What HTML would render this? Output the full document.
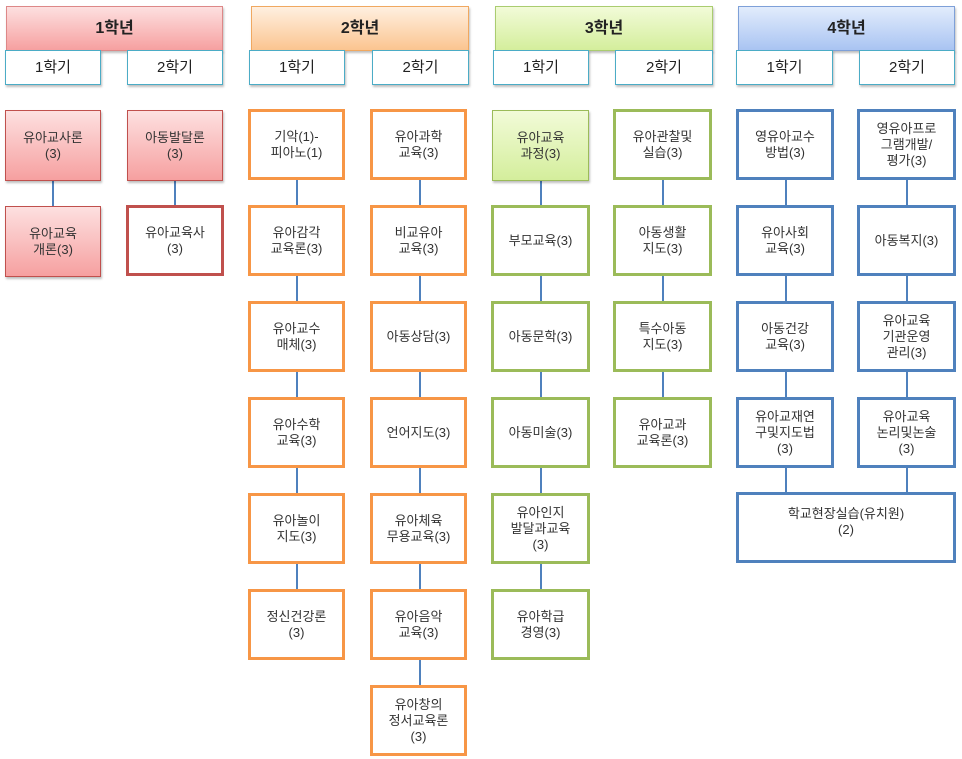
<!DOCTYPE html>
<html><head><meta charset="utf-8"><style>
body{margin:0;width:962px;height:759px;background:#fff;position:relative;overflow:hidden;font-family:"Liberation Sans","Noto Sans CJK KR",sans-serif;}
.a{position:absolute;box-sizing:border-box;display:flex;align-items:center;justify-content:center;text-align:center;color:#333;font-size:13px;line-height:16px;}
.h{height:45px;font-weight:bold;font-size:16px;color:#222;padding-bottom:0;align-items:center;box-shadow:1px 2px 2px rgba(0,0,0,.25);}
.s{height:35px;background:#fff;font-size:15px;color:#222;box-shadow:1px 2px 2px rgba(0,0,0,.25);border:1.5px solid #4BACC6;}
.c{height:71px;background:#fff;}
.o{border:3px solid #F79646}.g{border:3px solid #9BBB59}.b{border:3px solid #4F81BD}.r{border:3px solid #C0504D}
.rf{border:1.5px solid #C0504D;background:linear-gradient(#fde0e0,#f6a0a0);box-shadow:1px 2px 2px rgba(0,0,0,.25);}
.gf{border:1.5px solid #9BBB59;background:linear-gradient(#f2fbd8,#d4ee9c);box-shadow:1px 2px 2px rgba(0,0,0,.25);}
.l{position:absolute;width:1.5px;background:#4F81BD;}
</style></head><body>
<div class="l" style="left:52px;top:180px;height:26px"></div>
<div class="l" style="left:174px;top:180px;height:26px"></div>
<div class="l" style="left:296px;top:180px;height:410px"></div>
<div class="l" style="left:419px;top:180px;height:506px"></div>
<div class="l" style="left:540px;top:180px;height:410px"></div>
<div class="l" style="left:662px;top:180px;height:218px"></div>
<div class="l" style="left:785px;top:180px;height:314px"></div>
<div class="l" style="left:906px;top:180px;height:314px"></div>

<div class="a h" style="left:6px;top:6px;width:217px;background:linear-gradient(#fde0e0,#f6a0a0);border:1px solid #d88">1학년</div>
<div class="a h" style="left:251px;top:6px;width:218px;background:linear-gradient(#fff0e0,#fbc590);border:1px solid #f0a860">2학년</div>
<div class="a h" style="left:495px;top:6px;width:218px;background:linear-gradient(#f2fbd8,#d4ee9c);border:1px solid #aacc70">3학년</div>
<div class="a h" style="left:738px;top:6px;width:217px;background:linear-gradient(#e2ecfc,#a9c4f2);border:1px solid #7ea0d8">4학년</div>

<div class="a s" style="left:5px;top:50px;width:96px">1학기</div>
<div class="a s" style="left:127px;top:50px;width:96px">2학기</div>
<div class="a s" style="left:249px;top:50px;width:96px">1학기</div>
<div class="a s" style="left:372px;top:50px;width:97px">2학기</div>
<div class="a s" style="left:493px;top:50px;width:96px">1학기</div>
<div class="a s" style="left:615px;top:50px;width:98px">2학기</div>
<div class="a s" style="left:736px;top:50px;width:97px">1학기</div>
<div class="a s" style="left:859px;top:50px;width:96px">2학기</div>

<div class="a c rf" style="left:5px;top:110px;width:96px">유아교사론<br>(3)</div>
<div class="a c rf" style="left:5px;top:206px;width:96px">유아교육<br>개론(3)</div>
<div class="a c rf" style="left:127px;top:110px;width:96px">아동발달론<br>(3)</div>
<div class="a c r" style="left:126px;top:205px;width:98px">유아교육사<br>(3)</div>

<div class="a c o" style="left:248px;top:109px;width:97px">기악(1)-<br>피아노(1)</div>
<div class="a c o" style="left:248px;top:205px;width:97px">유아감각<br>교육론(3)</div>
<div class="a c o" style="left:248px;top:301px;width:97px">유아교수<br>매체(3)</div>
<div class="a c o" style="left:248px;top:397px;width:97px">유아수학<br>교육(3)</div>
<div class="a c o" style="left:248px;top:493px;width:97px">유아놀이<br>지도(3)</div>
<div class="a c o" style="left:248px;top:589px;width:97px">정신건강론<br>(3)</div>

<div class="a c o" style="left:370px;top:109px;width:97px">유아과학<br>교육(3)</div>
<div class="a c o" style="left:370px;top:205px;width:97px">비교유아<br>교육(3)</div>
<div class="a c o" style="left:370px;top:301px;width:97px">아동상담(3)</div>
<div class="a c o" style="left:370px;top:397px;width:97px">언어지도(3)</div>
<div class="a c o" style="left:370px;top:493px;width:97px">유아체육<br>무용교육(3)</div>
<div class="a c o" style="left:370px;top:589px;width:97px">유아음악<br>교육(3)</div>
<div class="a c o" style="left:370px;top:685px;width:97px">유아창의<br>정서교육론<br>(3)</div>

<div class="a c gf" style="left:492px;top:110px;width:97px">유아교육<br>과정(3)</div>
<div class="a c g" style="left:491px;top:205px;width:99px">부모교육(3)</div>
<div class="a c g" style="left:491px;top:397px;width:99px">아동미술(3)</div>
<div class="a c g" style="left:491px;top:301px;width:99px">아동문학(3)</div>
<div class="a c g" style="left:491px;top:493px;width:99px">유아인지<br>발달과교육<br>(3)</div>
<div class="a c g" style="left:491px;top:589px;width:99px">유아학급<br>경영(3)</div>

<div class="a c g" style="left:613px;top:109px;width:99px">유아관찰및<br>실습(3)</div>
<div class="a c g" style="left:613px;top:205px;width:99px">아동생활<br>지도(3)</div>
<div class="a c g" style="left:613px;top:301px;width:99px">특수아동<br>지도(3)</div>
<div class="a c g" style="left:613px;top:397px;width:99px">유아교과<br>교육론(3)</div>

<div class="a c b" style="left:736px;top:109px;width:98px">영유아교수<br>방법(3)</div>
<div class="a c b" style="left:736px;top:205px;width:98px">유아사회<br>교육(3)</div>
<div class="a c b" style="left:736px;top:301px;width:98px">아동건강<br>교육(3)</div>
<div class="a c b" style="left:736px;top:397px;width:98px">유아교재연<br>구및지도법<br>(3)</div>

<div class="a c b" style="left:857px;top:109px;width:99px">영유아프로<br>그램개발/<br>평가(3)</div>
<div class="a c b" style="left:857px;top:205px;width:99px">아동복지(3)</div>
<div class="a c b" style="left:857px;top:301px;width:99px">유아교육<br>기관운영<br>관리(3)</div>
<div class="a c b" style="left:857px;top:397px;width:99px">유아교육<br>논리및논술<br>(3)</div>

<div class="a c b" style="left:736px;top:492px;width:220px;padding-bottom:12px">학교현장실습(유치원)<br>(2)</div>
</body></html>
